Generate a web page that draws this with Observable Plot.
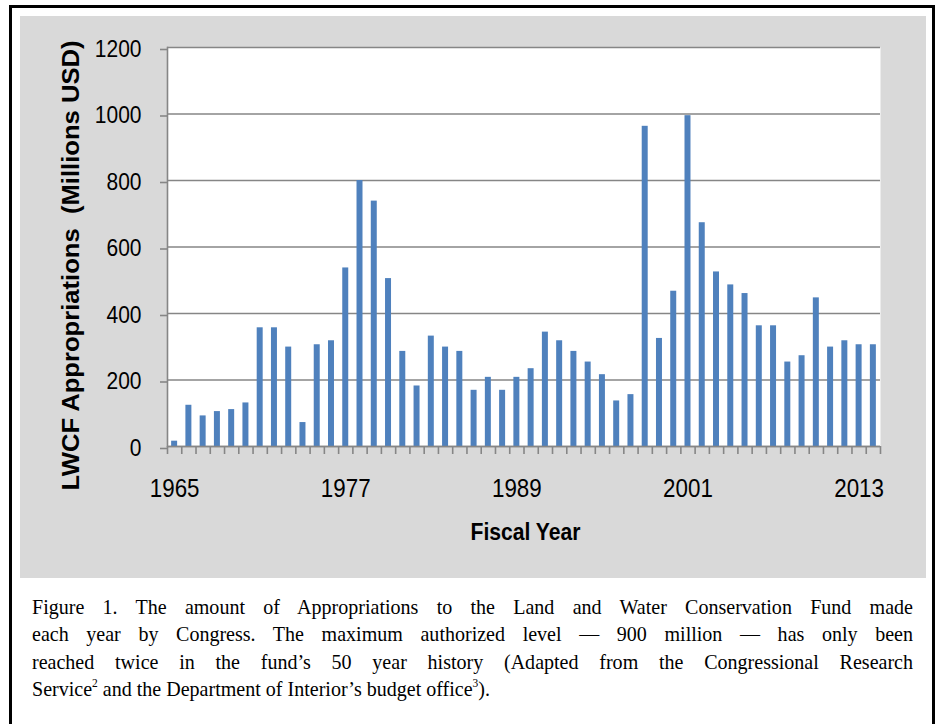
<!DOCTYPE html>
<html><head><meta charset="utf-8">
<script src="https://cdn.jsdelivr.net/npm/d3@7"></script>
<script src="https://cdn.jsdelivr.net/npm/@observablehq/plot@0.6"></script>
<style>
body{margin:0;background:#fff;width:937px;height:724px;overflow:hidden;position:relative;}
#border{position:absolute;left:9px;top:5px;width:926px;height:740px;border:3px solid #000;border-bottom:none;box-sizing:border-box;}
#chart{position:absolute;left:20px;top:16px;width:906px;height:562px;background:#d9d9d9;}
#caption{position:absolute;left:32px;top:594px;font-family:"Liberation Serif","Times New Roman",serif;font-size:21px;line-height:27.4px;color:#000;transform-origin:0 0;}
#caption .ln{text-align:justify;text-align-last:justify;white-space:nowrap;}
#caption .ln.last{text-align-last:left;}
#caption sup{font-size:12px;line-height:0;vertical-align:9px;}
</style></head>
<body>
<div id="border"></div>
<div id="chart"></div>
<div id="caption">
<div class="ln">Figure 1. The amount of Appropriations to the Land and Water Conservation Fund made</div>
<div class="ln">each year by Congress. The maximum authorized level — 900 million — has only been</div>
<div class="ln">reached twice in the fund’s 50 year history (Adapted from the Congressional Research</div>
<div class="ln last"><span id="lastSpan">Service<sup>2</sup> and the Department of Interior’s budget office<sup>3</sup>).</span></div>
</div>
<script>
const years = [1965,1966,1967,1968,1969,1970,1971,1972,1973,1974,1975,1976,1977,1978,1979,1980,1981,1982,1983,1984,1985,1986,1987,1988,1989,1990,1991,1992,1993,1994,1995,1996,1997,1998,1999,2000,2001,2002,2003,2004,2005,2006,2007,2008,2009,2010,2011,2012,2013,2014];
const appropriations = [16,124,92,105,111,131,357,357,299,72,306,318,537,800,738,505,286,182,332,299,286,169,208,169,208,234,344,318,286,254,216,137,156,963,325,467,995,673,525,486,460,363,363,254,273,447,299,318,306,306];
const yTicks = [0,200,400,600,800,1000,1200];
const xTickLabels = [1965,1977,1989,2001,2013];
const yTitle = "LWCF Appropriations  (Millions USD)";
const xTitle = "Fiscal Year";

const data = years.map((year, i) => ({year, value: appropriations[i]}));
const W = 906, H = 562, mL = 147, mR = 46, mT = 31, mB = 132;
const step = (W - mL - mR) / years.length;
const font = "'Liberation Sans',Arial,sans-serif";
const grid = "#868686";

const chart = Plot.plot({
  width: W, height: H,
  marginLeft: mL, marginRight: mR, marginTop: mT, marginBottom: mB,
  style: {background: "transparent", fontFamily: font, fontSize: "25px", color: "#000", overflow: "visible"},
  x: {type: "band", domain: years, paddingInner: 0.58, paddingOuter: 0.29, align: 0.5, round: false},
  y: {domain: [0, 1200]},
  marks: [
    Plot.frame({fill: "white", stroke: null}),
    Plot.gridY(yTicks, {stroke: grid, strokeOpacity: 1, strokeWidth: 1.6}),
    Plot.barY(data, {x: "year", y: "value", fill: "#4f81bd"}),
    Plot.frame({anchor: "left", stroke: grid, strokeWidth: 1.6}),
    Plot.ruleY([0], {stroke: grid, strokeWidth: 1.6}),
    Plot.axisY(yTicks, {tickSize: 7, tickPadding: 19, stroke: grid, strokeWidth: 1.6, label: null, fontSize: 23.3, tickFormat: d => String(d), dy: 2}),
    Plot.axisX(years, {tickSize: 8, tickFormat: () => "", stroke: grid, strokeWidth: 1.6, label: null, dx: -step / 2}),
    Plot.axisX([years[years.length - 1]], {tickSize: 8, tickFormat: () => "", stroke: grid, strokeWidth: 1.6, label: null, dx: step / 2}),
    Plot.axisX(xTickLabels, {tickSize: 0, tickPadding: 32, label: null, fontSize: 25.5, tickFormat: d => String(d)}),
    Plot.text([xTitle], {frameAnchor: "bottom", textAnchor: "middle", lineAnchor: "middle", dx: 1.5, dy: 85.4, fontSize: 24.6, fontWeight: "bold", fill: "#000"}),
    Plot.text([yTitle], {frameAnchor: "left", textAnchor: "middle", lineAnchor: "middle", dx: -96, dy: 18.5, rotate: -90, fontSize: 24.6, fontWeight: "bold", fill: "#000"})
  ]
});
document.getElementById("chart").appendChild(chart);

// condensed lettering like the reference (Calibri-style narrow text)
const xSet = new Set(xTickLabels.map(String)), ySet = new Set(yTicks.map(String));
chart.querySelectorAll("text").forEach(t => {
  const s = t.textContent;
  if (!s) return;
  const len = t.getComputedTextLength();
  let target = null;
  if (s === xTitle) target = 110;
  else if (s.replace(/\s+/g, " ") === yTitle.replace(/\s+/g, " ")) target = 450;
  else if (xSet.has(s) && t.closest('g[aria-label="x-axis tick label"]')) target = len * 0.877;
  else if (ySet.has(s)) target = len * 0.9;
  if (target) { t.setAttribute("textLength", target); t.setAttribute("lengthAdjust", "spacingAndGlyphs"); }
});

// caption: justified lines, horizontally condensed to match the reference
const cap = document.getElementById("caption");
const lastW = document.getElementById("lastSpan").getBoundingClientRect().width;
const sc = 458 / lastW;
cap.style.width = (881 / sc) + "px";
cap.style.transform = `scaleX(${sc})`;
</script>
</body></html>
